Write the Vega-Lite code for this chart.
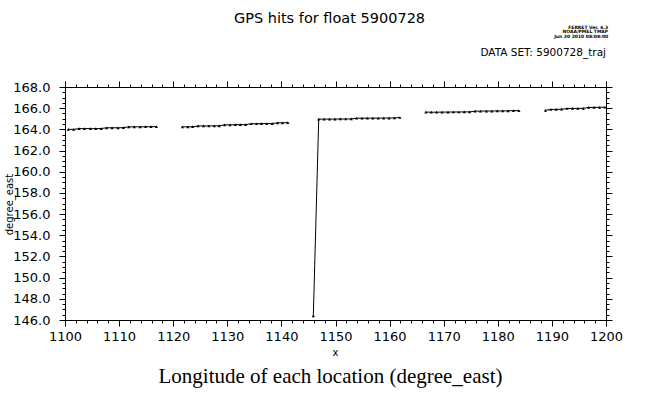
{
  "$schema": "https://vega.github.io/schema/vega-lite/v6.json",
  "width": 541,
  "height": 233,
  "autosize": "none",
  "padding": {"left": 65, "top": 87, "right": 53, "bottom": 76},
  "background": "white",
  "title": {
    "text": "GPS hits for float 5900728",
    "font": "DejaVu Sans",
    "fontSize": 14.5,
    "fontWeight": "normal",
    "color": "black",
    "anchor": "middle",
    "baseline": "bottom",
    "offset": 0,
    "dx": -6,
    "dy": 16
  },
  "config": {
    "view": {"stroke": "black", "strokeWidth": 1},
    "axis": {
      "domain": false,
      "grid": false,
      "labelFont": "DejaVu Sans",
      "labelFontSize": 13,
      "labelColor": "black",
      "tickColor": "black",
      "titleColor": "black",
      "titleFontWeight": "normal"
    }
  },
  "datasets": {
    "hits": [
      {"x": 1100.6, "y": 164.00, "seg": "A"},
      {"x": 1101.6, "y": 164.00, "seg": "A"},
      {"x": 1102.6, "y": 164.07, "seg": "A"},
      {"x": 1103.6, "y": 164.07, "seg": "A"},
      {"x": 1104.7, "y": 164.07, "seg": "A"},
      {"x": 1105.7, "y": 164.07, "seg": "A"},
      {"x": 1106.7, "y": 164.08, "seg": "A"},
      {"x": 1107.7, "y": 164.15, "seg": "A"},
      {"x": 1108.7, "y": 164.15, "seg": "A"},
      {"x": 1109.8, "y": 164.15, "seg": "A"},
      {"x": 1110.8, "y": 164.16, "seg": "A"},
      {"x": 1111.8, "y": 164.24, "seg": "A"},
      {"x": 1112.8, "y": 164.24, "seg": "A"},
      {"x": 1113.9, "y": 164.24, "seg": "A"},
      {"x": 1114.9, "y": 164.25, "seg": "A"},
      {"x": 1115.9, "y": 164.25, "seg": "A"},
      {"x": 1116.9, "y": 164.26, "seg": "A"},
      {"x": 1121.7, "y": 164.24, "seg": "B"},
      {"x": 1122.7, "y": 164.24, "seg": "B"},
      {"x": 1123.6, "y": 164.25, "seg": "B"},
      {"x": 1124.6, "y": 164.32, "seg": "B"},
      {"x": 1125.6, "y": 164.32, "seg": "B"},
      {"x": 1126.6, "y": 164.33, "seg": "B"},
      {"x": 1127.6, "y": 164.33, "seg": "B"},
      {"x": 1128.5, "y": 164.34, "seg": "B"},
      {"x": 1129.5, "y": 164.43, "seg": "B"},
      {"x": 1130.5, "y": 164.43, "seg": "B"},
      {"x": 1131.5, "y": 164.44, "seg": "B"},
      {"x": 1132.4, "y": 164.44, "seg": "B"},
      {"x": 1133.4, "y": 164.45, "seg": "B"},
      {"x": 1134.4, "y": 164.53, "seg": "B"},
      {"x": 1135.4, "y": 164.53, "seg": "B"},
      {"x": 1136.3, "y": 164.54, "seg": "B"},
      {"x": 1137.3, "y": 164.54, "seg": "B"},
      {"x": 1138.3, "y": 164.55, "seg": "B"},
      {"x": 1139.3, "y": 164.62, "seg": "B"},
      {"x": 1140.2, "y": 164.62, "seg": "B"},
      {"x": 1141.2, "y": 164.63, "seg": "B"},
      {"x": 1145.9, "y": 146.40, "seg": "C"},
      {"x": 1146.9, "y": 164.96, "seg": "C"},
      {"x": 1147.9, "y": 164.97, "seg": "C"},
      {"x": 1148.9, "y": 164.97, "seg": "C"},
      {"x": 1149.9, "y": 164.97, "seg": "C"},
      {"x": 1150.9, "y": 164.98, "seg": "C"},
      {"x": 1151.9, "y": 164.98, "seg": "C"},
      {"x": 1152.9, "y": 164.99, "seg": "C"},
      {"x": 1153.9, "y": 165.05, "seg": "C"},
      {"x": 1154.9, "y": 165.05, "seg": "C"},
      {"x": 1155.9, "y": 165.06, "seg": "C"},
      {"x": 1156.9, "y": 165.06, "seg": "C"},
      {"x": 1157.9, "y": 165.06, "seg": "C"},
      {"x": 1158.9, "y": 165.07, "seg": "C"},
      {"x": 1159.9, "y": 165.07, "seg": "C"},
      {"x": 1160.9, "y": 165.08, "seg": "C"},
      {"x": 1161.9, "y": 165.12, "seg": "C"},
      {"x": 1166.7, "y": 165.63, "seg": "D"},
      {"x": 1167.7, "y": 165.62, "seg": "D"},
      {"x": 1168.7, "y": 165.62, "seg": "D"},
      {"x": 1169.7, "y": 165.63, "seg": "D"},
      {"x": 1170.8, "y": 165.63, "seg": "D"},
      {"x": 1171.8, "y": 165.64, "seg": "D"},
      {"x": 1172.8, "y": 165.64, "seg": "D"},
      {"x": 1173.8, "y": 165.65, "seg": "D"},
      {"x": 1174.8, "y": 165.65, "seg": "D"},
      {"x": 1175.8, "y": 165.72, "seg": "D"},
      {"x": 1176.8, "y": 165.72, "seg": "D"},
      {"x": 1177.9, "y": 165.73, "seg": "D"},
      {"x": 1178.9, "y": 165.73, "seg": "D"},
      {"x": 1179.9, "y": 165.74, "seg": "D"},
      {"x": 1180.9, "y": 165.74, "seg": "D"},
      {"x": 1181.9, "y": 165.75, "seg": "D"},
      {"x": 1182.9, "y": 165.78, "seg": "D"},
      {"x": 1183.9, "y": 165.76, "seg": "D"},
      {"x": 1188.8, "y": 165.80, "seg": "E"},
      {"x": 1189.8, "y": 165.88, "seg": "E"},
      {"x": 1190.8, "y": 165.89, "seg": "E"},
      {"x": 1191.8, "y": 165.90, "seg": "E"},
      {"x": 1192.8, "y": 165.97, "seg": "E"},
      {"x": 1193.8, "y": 165.98, "seg": "E"},
      {"x": 1194.8, "y": 165.98, "seg": "E"},
      {"x": 1195.8, "y": 165.99, "seg": "E"},
      {"x": 1196.8, "y": 166.07, "seg": "E"},
      {"x": 1197.8, "y": 166.08, "seg": "E"},
      {"x": 1198.8, "y": 166.08, "seg": "E"},
      {"x": 1199.8, "y": 166.09, "seg": "E"}
    ],
    "notes": [
      {"x": 1200, "y": 171.2, "label": "DATA SET: 5900728_traj", "kind": "ds"},
      {"x": 1200.4, "y": 173.6, "label": "FERRET Ver. 6.3\nNOAA/PMEL TMAP\nJun 30 2010 08:08:00", "kind": "ferret"}
    ]
  },
  "resolve": {"axis": {"x": "independent", "y": "independent"}},
  "layer": [
    {
      "data": {"name": "hits"},
      "mark": {"type": "line", "color": "black", "strokeWidth": 1},
      "encoding": {
        "x": {
          "field": "x", "type": "quantitative",
          "scale": {"domain": [1100, 1200], "nice": false, "zero": false},
          "axis": {
            "orient": "bottom",
            "values": [1100,1102,1104,1106,1108,1110,1112,1114,1116,1118,1120,1122,1124,1126,1128,1130,1132,1134,1136,1138,1140,1142,1144,1146,1148,1150,1152,1154,1156,1158,1160,1162,1164,1166,1168,1170,1172,1174,1176,1178,1180,1182,1184,1186,1188,1190,1192,1194,1196,1198,1200],
            "labelExpr": "datum.value % 10 === 0 ? format(datum.value, 'd') : ''",
            "tickSize": {"condition": {"test": "datum.value % 10 === 0", "value": 6}, "value": 3},
            "labelPadding": 4,
            "labelFlush": false,
            "labelOverlap": false,
            "title": "x",
            "titleFont": "DejaVu Sans",
            "titleFontSize": 10,
            "titleX": 270,
            "titleY": 32,
            "titleBaseline": "middle",
            "titleAlign": "center"
          }
        },
        "y": {
          "field": "y", "type": "quantitative",
          "scale": {"domain": [146, 168], "nice": false, "zero": false},
          "axis": {
            "orient": "left",
            "values": [146,146.5,147,147.5,148,148.5,149,149.5,150,150.5,151,151.5,152,152.5,153,153.5,154,154.5,155,155.5,156,156.5,157,157.5,158,158.5,159,159.5,160,160.5,161,161.5,162,162.5,163,163.5,164,164.5,165,165.5,166,166.5,167,167.5,168],
            "labelExpr": "datum.value % 2 === 0 ? format(datum.value, '.1f') : ''",
            "tickSize": {"condition": {"test": "datum.value % 2 === 0", "value": 6}, "value": 3},
            "labelPadding": 9,
            "labelFlush": false,
            "labelOverlap": false,
            "title": "degree_east",
            "titleFont": "DejaVu Sans",
            "titleFontSize": 10,
            "titleAngle": -90,
            "titleX": -56,
            "titleY": 117,
            "titleBaseline": "middle",
            "titleAlign": "center"
          }
        },
        "detail": {"field": "seg", "type": "nominal"}
      }
    },
    {
      "data": {"name": "hits"},
      "mark": {"type": "point", "shape": "triangle-up", "filled": true, "color": "black", "size": 10, "opacity": 1},
      "encoding": {
        "x": {
          "field": "x", "type": "quantitative",
          "axis": {
            "orient": "top",
            "values": [1100,1102,1104,1106,1108,1110,1112,1114,1116,1118,1120,1122,1124,1126,1128,1130,1132,1134,1136,1138,1140,1142,1144,1146,1148,1150,1152,1154,1156,1158,1160,1162,1164,1166,1168,1170,1172,1174,1176,1178,1180,1182,1184,1186,1188,1190,1192,1194,1196,1198,1200],
            "labels": false,
            "tickSize": {"condition": {"test": "datum.value % 10 === 0", "value": 6}, "value": 3},
            "title": null
          }
        },
        "y": {
          "field": "y", "type": "quantitative",
          "axis": {
            "orient": "right",
            "values": [146,146.5,147,147.5,148,148.5,149,149.5,150,150.5,151,151.5,152,152.5,153,153.5,154,154.5,155,155.5,156,156.5,157,157.5,158,158.5,159,159.5,160,160.5,161,161.5,162,162.5,163,163.5,164,164.5,165,165.5,166,166.5,167,167.5,168],
            "labels": false,
            "tickSize": {"condition": {"test": "datum.value % 2 === 0", "value": 6}, "value": 3},
            "title": null
          }
        }
      }
    },
    {
      "data": {"name": "notes"},
      "transform": [{"filter": "datum.kind === 'ds'"}],
      "mark": {"type": "text", "align": "right", "baseline": "middle", "font": "DejaVu Sans", "fontSize": 10.5, "color": "black"},
      "encoding": {
        "x": {
          "field": "x", "type": "quantitative",
          "axis": {
            "orient": "bottom",
            "labels": false,
            "ticks": false,
            "domain": false,
            "title": "Longitude of each location (degree_east)",
            "titleFont": "Liberation Serif",
            "titleFontSize": 21,
            "titleX": 265,
            "titleY": 56,
            "titleBaseline": "middle",
            "titleAlign": "center"
          }
        },
        "y": {"field": "y", "type": "quantitative", "axis": null},
        "text": {"field": "label"}
      }
    },
    {
      "data": {"name": "notes"},
      "transform": [{"filter": "datum.kind === 'ferret'"}],
      "mark": {"type": "text", "align": "right", "baseline": "middle", "font": "DejaVu Sans", "fontSize": 4.5, "fontWeight": "bold", "lineBreak": "\n", "lineHeight": 4.5, "color": "black"},
      "encoding": {
        "x": {"field": "x", "type": "quantitative", "axis": null},
        "y": {"field": "y", "type": "quantitative", "axis": null},
        "text": {"field": "label"}
      }
    }
  ]
}
